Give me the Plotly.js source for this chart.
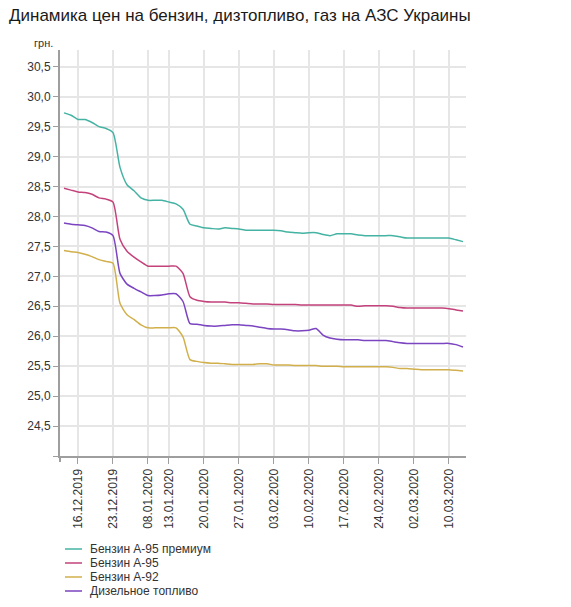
<!DOCTYPE html>
<html>
<head>
<meta charset="utf-8">
<script src="https://cdn.plot.ly/plotly-3.0.1.min.js"></script>
<style>
  html, body { margin: 0; padding: 0; background: #fff; }
  #chart { width: 571px; height: 607px; }
</style>
</head>
<body>
<div id="chart"></div>
<script>
// Trading days on the category axis
const dates = [
  '12.12.2019', '13.12.2019', '16.12.2019', '17.12.2019', '18.12.2019', '19.12.2019', '20.12.2019',
  '23.12.2019', '24.12.2019', '26.12.2019', '27.12.2019', '30.12.2019',
  '08.01.2020', '09.01.2020', '10.01.2020', '13.01.2020', '14.01.2020', '15.01.2020', '16.01.2020', '17.01.2020',
  '20.01.2020', '21.01.2020', '22.01.2020', '23.01.2020', '24.01.2020',
  '27.01.2020', '28.01.2020', '29.01.2020', '30.01.2020', '31.01.2020',
  '03.02.2020', '04.02.2020', '05.02.2020', '06.02.2020', '07.02.2020',
  '10.02.2020', '11.02.2020', '12.02.2020', '13.02.2020', '14.02.2020',
  '17.02.2020', '18.02.2020', '19.02.2020', '20.02.2020', '21.02.2020',
  '24.02.2020', '25.02.2020', '26.02.2020', '27.02.2020', '28.02.2020',
  '02.03.2020', '03.03.2020', '04.03.2020', '05.03.2020', '06.03.2020',
  '10.03.2020', '11.03.2020', '12.03.2020'
];

// Dates shown as tick labels
const tickDates = [
  '16.12.2019', '23.12.2019', '08.01.2020', '13.01.2020', '20.01.2020', '27.01.2020',
  '03.02.2020', '10.02.2020', '17.02.2020', '24.02.2020', '02.03.2020', '10.03.2020'
];

// Price tick values, UAH
const priceTicks = [24.0, 24.5, 25.0, 25.5, 26.0, 26.5, 27.0, 27.5, 28.0, 28.5, 29.0, 29.5, 30.0, 30.5];

const seriesNames = ['Бензин А-95 премиум', 'Бензин А-95', 'Бензин А-92', 'Дизельное топливо'];

const a95premium = [
  29.73, 29.69, 29.62, 29.62, 29.57, 29.50, 29.47, 29.40, 28.82, 28.53, 28.43, 28.31,
  28.27, 28.27, 28.27, 28.24, 28.21, 28.12, 27.87, 27.84, 27.81, 27.80, 27.79, 27.81,
  27.80, 27.79, 27.77, 27.77, 27.77, 27.77, 27.77, 27.76, 27.74, 27.73, 27.72, 27.73,
  27.73, 27.70, 27.68, 27.71, 27.71, 27.71, 27.69, 27.68, 27.68, 27.68, 27.68, 27.68,
  27.66, 27.64, 27.64, 27.64, 27.64, 27.64, 27.64, 27.64, 27.61, 27.58
];

const a95 = [
  28.47, 28.44, 28.41, 28.40, 28.37, 28.31, 28.29, 28.24, 27.62, 27.42, 27.32, 27.24,
  27.17, 27.17, 27.17, 27.17, 27.17, 27.05, 26.66, 26.60, 26.58, 26.57, 26.57, 26.57,
  26.56, 26.56, 26.55, 26.54, 26.54, 26.54, 26.53, 26.53, 26.53, 26.53, 26.52, 26.52,
  26.52, 26.52, 26.52, 26.52, 26.52, 26.52, 26.50, 26.51, 26.51, 26.51, 26.51, 26.50,
  26.48, 26.47, 26.47, 26.47, 26.47, 26.47, 26.47, 26.46, 26.44, 26.42
];

const a92 = [
  27.43, 27.41, 27.40, 27.37, 27.33, 27.28, 27.25, 27.22, 26.55, 26.36, 26.28, 26.19,
  26.14, 26.14, 26.14, 26.14, 26.14, 25.99, 25.61, 25.58, 25.56, 25.55, 25.55, 25.54,
  25.53, 25.53, 25.53, 25.53, 25.54, 25.54, 25.52, 25.52, 25.52, 25.51, 25.51, 25.51,
  25.51, 25.50, 25.50, 25.50, 25.49, 25.49, 25.49, 25.49, 25.49, 25.49, 25.49, 25.48,
  25.46, 25.46, 25.45, 25.44, 25.44, 25.44, 25.44, 25.44, 25.43, 25.42
];

const diesel = [
  27.89, 27.87, 27.86, 27.85, 27.81, 27.75, 27.74, 27.68, 27.05, 26.87, 26.80, 26.74,
  26.68, 26.68, 26.69, 26.71, 26.71, 26.58, 26.21, 26.20, 26.18, 26.17, 26.17, 26.18,
  26.19, 26.19, 26.18, 26.17, 26.15, 26.13, 26.12, 26.12, 26.11, 26.09, 26.09, 26.10,
  26.13, 26.02, 25.97, 25.95, 25.94, 25.94, 25.94, 25.93, 25.93, 25.93, 25.93, 25.91,
  25.89, 25.88, 25.88, 25.88, 25.88, 25.88, 25.88, 25.88, 25.86, 25.82
];

const seriesValues = [a95premium, a95, a92, diesel];
const seriesColors = ['#45b3a3', '#c4427c', '#d1b04c', '#7b44c0'];

const FONT = 'Arial, "Liberation Sans", sans-serif';

const traces = seriesValues.map((vals, i) => ({
  type: 'scatter',
  mode: 'lines',
  name: seriesNames[i],
  x: dates,
  y: vals,
  line: { color: seriesColors[i], width: 1.5, shape: 'spline', smoothing: 0.6 },
  hoverinfo: 'x+y+name',
  showlegend: false
}));

// Legend drawn as short line samples with text labels beneath the plot
const legendTop = 549;
const legendStep = 14;
const H = 607, W = 571;
const shapes = [];
const annotations = [];
seriesNames.forEach((name, i) => {
  const yPx = legendTop + i * legendStep;
  const yPaper = 1 - (yPx - 50) / 406;
  shapes.push({
    type: 'line', xref: 'paper', yref: 'paper',
    xsizemode: 'pixel', xanchor: 0,
    x0: 5, x1: 22, y0: yPaper, y1: yPaper,
    line: { color: seriesColors[i], width: 2 },
    opacity: 0.75
  });
  annotations.push({
    xref: 'paper', yref: 'paper', x: 28 / 406, y: yPaper,
    xanchor: 'left', yanchor: 'middle', showarrow: false,
    text: name, font: { family: FONT, size: 12, color: '#333' }
  });
});

// Unit label above the price axis
annotations.push({
  xref: 'paper', yref: 'paper', x: -5 / 406, y: 1 + 7 / 406,
  xanchor: 'right', yanchor: 'middle', showarrow: false,
  text: 'грн.', font: { family: FONT, size: 11, color: '#333' }
});

// Small extension of the price axis below the date axis
shapes.push({
  type: 'line', xref: 'paper', yref: 'paper',
  ysizemode: 'pixel', yanchor: 0,
  x0: 0, x1: 0, y0: 0, y1: -6,
  line: { color: '#9e9e9e', width: 2 }
});

const layout = {
  width: W,
  height: H,
  margin: { l: 60, r: 105, t: 50, b: 151 },
  paper_bgcolor: '#fff',
  plot_bgcolor: '#fff',
  separators: ', ',
  font: { family: FONT, size: 12, color: '#333' },
  title: {
    text: 'Динамика цен на бензин, дизтопливо, газ на АЗС Украины',
    x: 9 / W, xref: 'container', xanchor: 'left',
    y: 1 - 15 / H, yref: 'container', yanchor: 'middle',
    font: { family: FONT, size: 17, color: '#1a1a1a' }
  },
  xaxis: {
    type: 'category',
    categoryorder: 'array',
    categoryarray: dates,
    range: [-0.57, dates.length - 1 + 0.43],
    tickmode: 'array',
    tickvals: tickDates,
    ticktext: tickDates,
    tickangle: -90,
    ticks: 'outside',
    ticklen: 6,
    tickwidth: 1,
    tickcolor: '#9e9e9e',
    showline: true,
    linecolor: '#9e9e9e',
    linewidth: 2,
    showgrid: true,
    gridcolor: '#e6e6e6',
    gridwidth: 2,
    zeroline: false,
    tickfont: { family: FONT, size: 12, color: '#333' }
  },
  yaxis: {
    range: [24, 30.78],
    tickmode: 'array',
    tickvals: priceTicks,
    ticktext: priceTicks.map(v => v === 24 ? '' : v.toFixed(1).replace('.', ',')),
    ticks: 'outside',
    ticklen: 5,
    tickwidth: 1,
    tickcolor: '#9e9e9e',
    showline: true,
    linecolor: '#9e9e9e',
    linewidth: 2,
    showgrid: true,
    gridcolor: '#e6e6e6',
    gridwidth: 2,
    zeroline: false,
    tickfont: { family: FONT, size: 12, color: '#333' }
  },
  shapes: shapes,
  annotations: annotations,
  showlegend: false
};

Plotly.newPlot('chart', traces, layout, { displayModeBar: false, staticPlot: false });
</script>
</body>
</html>
